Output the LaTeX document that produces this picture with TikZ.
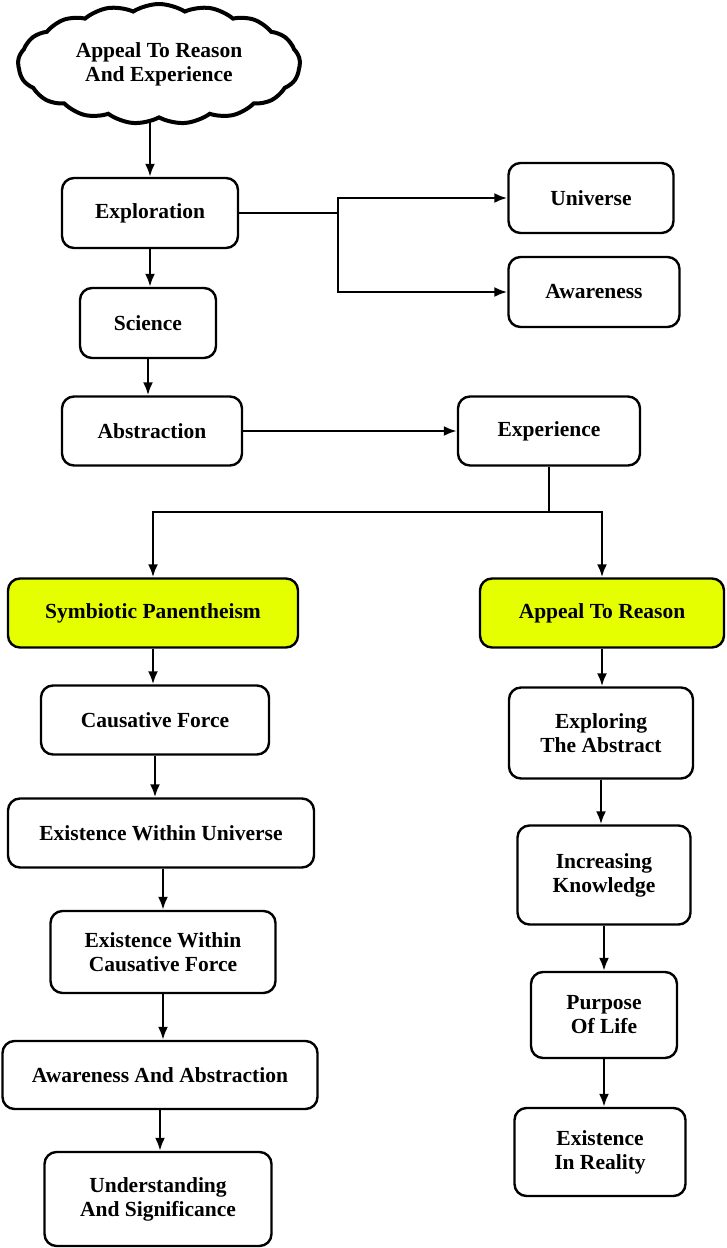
\documentclass[tikz,border=0pt]{standalone}
\usepackage{fontspec}
\setmainfont{Liberation Serif}
\usetikzlibrary{shapes.symbols,arrows.meta}
\definecolor{hiyellow}{RGB}{230,255,0}
\begin{document}
\begin{tikzpicture}[x=1pt,y=-1pt,
  box/.style={draw, line width=2.4pt, rounded corners=12pt, align=center, inner sep=2pt,
    font=\fontsize{21.5}{24}\selectfont\bfseries},
  hl/.style={box, fill=hiyellow},
  arr/.style={line width=2.4pt, -{Latex[length=13pt,width=10pt]}},
  ln/.style={line width=2.4pt}]
\useasboundingbox (0,0) rectangle (726,1248);
% cloud
\node[cloud, cloud puffs=17, cloud puff arc=65, aspect=2.3, draw, line width=4pt,
  minimum width=282pt, minimum height=120pt, align=center, inner sep=0pt,
  font=\fontsize{21.5}{24}\selectfont\bfseries] (cloud) at (159,64) {Appeal To Reason\\And Experience};
% top boxes
\node[box, minimum width=176pt, minimum height=70pt] (expl) at (150,213) {Exploration};
\node[box, minimum width=165pt, minimum height=70pt] (univ) at (591,198) {Universe};
\node[box, minimum width=171pt, minimum height=70pt] (aware) at (594,292) {Awareness};
\node[box, minimum width=136pt, minimum height=70pt] (sci) at (148,323) {Science};
\node[box, minimum width=180pt, minimum height=69pt] (abst) at (152,431) {Abstraction};
\node[box, minimum width=182pt, minimum height=69pt] (exper) at (549,431) {Experience};
% highlighted
\node[hl, minimum width=290pt, minimum height=69pt] (symb) at (153,613) {Symbiotic Panentheism};
\node[hl, minimum width=244pt, minimum height=69pt] (appeal) at (602,613) {Appeal To Reason};
% left column
\node[box, minimum width=228pt, minimum height=69pt] (caus) at (155,720) {Causative Force};
\node[box, minimum width=306pt, minimum height=69pt] (ewu) at (161,833) {Existence Within Universe};
\node[box, minimum width=225pt, minimum height=82pt] (ewcf) at (163,952) {Existence Within\\Causative Force};
\node[box, minimum width=315pt, minimum height=68pt] (aaa) at (160,1075) {Awareness And Abstraction};
\node[box, minimum width=227pt, minimum height=94pt] (uas) at (158,1199) {Understanding\\And Significance};
% right column
\node[box, minimum width=184pt, minimum height=91pt] (explab) at (601,733) {Exploring\\The Abstract};
\node[box, minimum width=173pt, minimum height=99pt] (incr) at (604,875) {Increasing\\Knowledge};
\node[box, minimum width=146pt, minimum height=86pt] (purp) at (604,1015) {Purpose\\Of Life};
\node[box, minimum width=171pt, minimum height=88pt] (exre) at (600,1152) {Existence\\In Reality};
% connectors
\draw[arr] (cloud.south -| expl.north) -- (expl.north);
\coordinate (j1) at (338,213);
\draw[ln] (expl.east) -- (j1);
\draw[arr] (j1) |- (univ.west);
\draw[arr] (j1) |- (aware.west);
\draw[arr] (expl.south) -- (expl.south |- sci.north);
\draw[arr] (sci.south) -- (sci.south |- abst.north);
\draw[arr] (abst.east) -- (exper.west);
\coordinate (j2) at (549,512);
\draw[ln] (exper.south) -- (j2);
\draw[arr] (j2) -| (symb.north);
\draw[arr] (j2) -| (appeal.north);
\draw[arr] (symb.south) -- (symb.south |- caus.north);
\draw[arr] (caus.south) -- (caus.south |- ewu.north);
\draw[arr] (ewcf.north |- ewu.south) -- (ewcf.north);
\draw[arr] (ewcf.south) -- (ewcf.south |- aaa.north);
\draw[arr] (aaa.south) -- (aaa.south |- uas.north);
\draw[arr] (appeal.south) -- (appeal.south |- explab.north);
\draw[arr] (explab.south) -- (explab.south |- incr.north);
\draw[arr] (incr.south) -- (incr.south |- purp.north);
\draw[arr] (purp.south) -- (purp.south |- exre.north);
\end{tikzpicture}
\end{document}
